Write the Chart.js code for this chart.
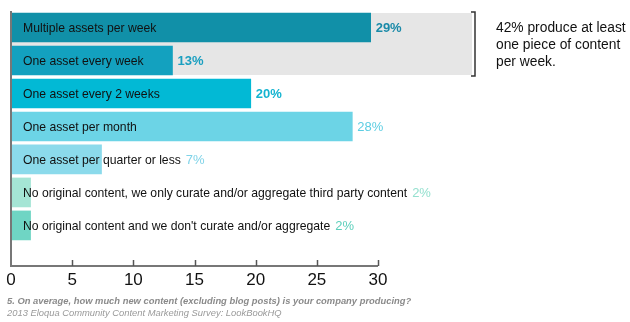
<!DOCTYPE html>
<html>
<head>
<meta charset="utf-8">
<script src="https://cdn.jsdelivr.net/npm/chart.js@4/dist/chart.umd.min.js"></script>
<style>
  body { margin: 0; background: #fff; }
  #wrap { position: relative; width: 630px; height: 322px; }
  .note { position: absolute; left: 496px; top: 19px; font: 13.8px "Liberation Sans", Arial, sans-serif; line-height: 17px; color: #111; }
  .cap { position: absolute; left: 7px; font-family: "Liberation Sans", Arial, sans-serif; font-style: italic; font-size: 9.4px; }
  .q { top: 295px; color: #8a8a8a; font-weight: bold; }
  .src { top: 307px; color: #9a9a9a; }
</style>
</head>
<body>
<div id="wrap">
  <canvas id="chart" width="630" height="322"></canvas>
  <div class="note">42% produce at least<br>one piece of content<br>per week.</div>
  <div class="cap q">5. On average, how much new content (excluding blog posts) is your company producing?</div>
  <div class="cap src">2013 Eloqua Community Content Marketing Survey: LookBookHQ</div>
</div>
<script>
// categories, top to bottom
const categories = [
  "Multiple assets per week",
  "One asset every week",
  "One asset every 2 weeks",
  "One asset per month",
  "One asset per quarter or less",
  "No original content, we only curate and/or aggregate third party content",
  "No original content and we don't curate and/or aggregate",
];
const values = [29.4, 13.2, 19.6, 27.9, 7.4, 1.6, 1.6];
const valueLabels = ["29%", "13%", "20%", "28%", "7%", "2%", "2%"];
const xTicks = [0, 5, 10, 15, 20, 25, 30];

const barColors = ["#1190a8", "#13a1bf", "#02b9d5", "#6cd4e6", "#8bdaeb", "#a5e5d5", "#6fd5c4"];
const labelColors = ["#1a8aa8", "#1a9fc0", "#14b4d0", "#5ccde2", "#7fd3e8", "#95e0cf", "#5ccfbb"];
const boldLabel = [true, true, true, false, false, false, false];

const FONT = '"Liberation Sans", Arial, sans-serif';

const decor = {
  id: "decor",
  beforeDatasetsDraw(chart) {
    const { ctx, chartArea } = chart;
    const y = chart.scales.y;
    const top = y.getPixelForValue(-0.5) + 2;
    const bot = y.getPixelForValue(1.5) - 2;
    ctx.save();
    ctx.fillStyle = "#e6e6e6";
    ctx.fillRect(chartArea.left, top, 472 - chartArea.left, bot - top);
    // bracket
    ctx.strokeStyle = "#333";
    ctx.lineWidth = 1.5;
    ctx.beginPath();
    ctx.moveTo(471, top - 1);
    ctx.lineTo(475, top - 1);
    ctx.lineTo(475, bot + 1);
    ctx.lineTo(471, bot + 1);
    ctx.stroke();
    ctx.restore();
  },
  afterDatasetsDraw(chart) {
    const { ctx, chartArea } = chart;
    const x = chart.scales.x;
    const y = chart.scales.y;
    ctx.save();
    // axes
    ctx.strokeStyle = "#777";
    ctx.lineWidth = 2;
    ctx.beginPath();
    ctx.moveTo(chartArea.left, chartArea.top);
    ctx.lineTo(chartArea.left, chartArea.bottom);
    ctx.lineTo(x.getPixelForValue(30), chartArea.bottom);
    ctx.stroke();
    ctx.lineWidth = 1.5;
    ctx.strokeStyle = "#555";
    xTicks.slice(1).forEach(t => {
      const px = Math.round(x.getPixelForValue(t)) + 0.5;
      ctx.beginPath();
      ctx.moveTo(px, chartArea.bottom);
      ctx.lineTo(px, chartArea.bottom - 6);
      ctx.stroke();
    });
    // category text inside bars + value labels
    ctx.textBaseline = "middle";
    categories.forEach((c, i) => {
      const py = y.getPixelForValue(i) + 1;
      ctx.font = "12.2px " + FONT;
      ctx.fillStyle = "#111";
      ctx.fillText(c, chartArea.left + 12, py);
      const textEnd = chartArea.left + 12 + ctx.measureText(c).width;
      const barEnd = x.getPixelForValue(values[i]);
      ctx.font = (boldLabel[i] ? "bold " : "") + "13px " + FONT;
      ctx.fillStyle = labelColors[i];
      ctx.fillText(valueLabels[i], Math.max(textEnd, barEnd) + 5, py);
    });
    ctx.restore();
  },
};

new Chart(document.getElementById("chart"), {
  type: "bar",
  data: {
    datasets: [{
      data: values.map((v, i) => ({ x: v, y: i })),
      backgroundColor: barColors,
      barThickness: 29,
      borderWidth: 0,
    }],
  },
  options: {
    indexAxis: "y",
    responsive: false,
    animation: false,
    layout: { padding: { left: 11, right: 252, top: 11, bottom: 0 } },
    plugins: { legend: { display: false }, tooltip: { enabled: false } },
    scales: {
      y: {
        type: "linear",
        reverse: true,
        offset: false,
        min: -0.5,
        max: 7.23,
        display: false,
      },
      x: {
        type: "linear",
        min: 0,
        max: 30,
        afterBuildTicks: (s) => { s.ticks = xTicks.map(v => ({ value: v })); },
        grid: { display: false, drawTicks: false },
        border: { display: false },
        ticks: { color: "#111", font: { family: FONT, size: 17 }, padding: 4, maxRotation: 0 },
        afterFit: (s) => { s.height = 56; },
      },
    },
  },
  plugins: [decor],
});
</script>
</body>
</html>
